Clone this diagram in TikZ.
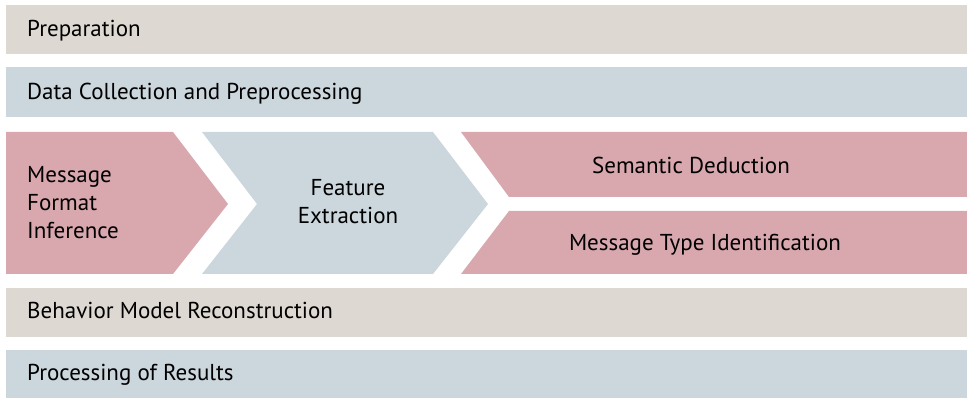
\documentclass[tikz,border=0pt]{standalone}
\usepackage{fontspec}
\setmainfont{PT Sans}
\usepackage{tikz}

\definecolor{stone}{RGB}{221,217,210}
\definecolor{steel}{RGB}{203,214,221}
\definecolor{rose}{RGB}{217,167,174}

\tikzset{
	phase/.style={anchor=base west, font=\fontsize{23}{28}\selectfont, inner sep=0pt},
	mid/.style={anchor=base, font=\fontsize{23}{28}\selectfont, inner sep=0pt, align=center},
}

\begin{document}
\begin{tikzpicture}[x=1pt,y=-1pt]
	\useasboundingbox (0,0) rectangle (967,398);

	% Bars
	\fill[stone] (6,5) rectangle (967,54);
	\fill[steel] (6,67) rectangle (967,117);
	\fill[stone] (6,288) rectangle (967,337);
	\fill[steel] (6,350) rectangle (967,398);

	% Chevrons
	%Left
	\fill[rose] (6,132) -- (173,132) -- (228,204) -- (173,274) -- (6,274) -- cycle;
	%Middle
	\fill[steel] (202,132) -- (433,132) -- (488,204) -- (433,274) -- (202,274) -- (257,204) -- cycle;
	%Right
	\fill[rose] (461,132) -- (967,132) -- (967,197) -- (509,197) -- cycle;
	\fill[rose] (509,211) -- (967,211) -- (967,274) -- (461,274) -- cycle;

	% Labels
	\node[phase] (prep) at (27,37) {Preparation};
	\node[phase] (data) at (27,100) {Data Collection and Preprocessing};
	\node[phase, align=left, anchor=north west] (format) at (27,166) {Message\\Format\\Inference};
	\node[mid, anchor=north] (feat) at (348,179) {Feature\\Extraction};
	\node[mid] (sem) at (691,174) {Semantic Deduction};
	\node[mid] (type) at (705,251) {Message Type Identification};
	\node[phase] (behav) at (27,319) {Behavior Model Reconstruction};
	\node[phase] (res) at (27,380) {Processing of Results};

\end{tikzpicture}
\end{document}
